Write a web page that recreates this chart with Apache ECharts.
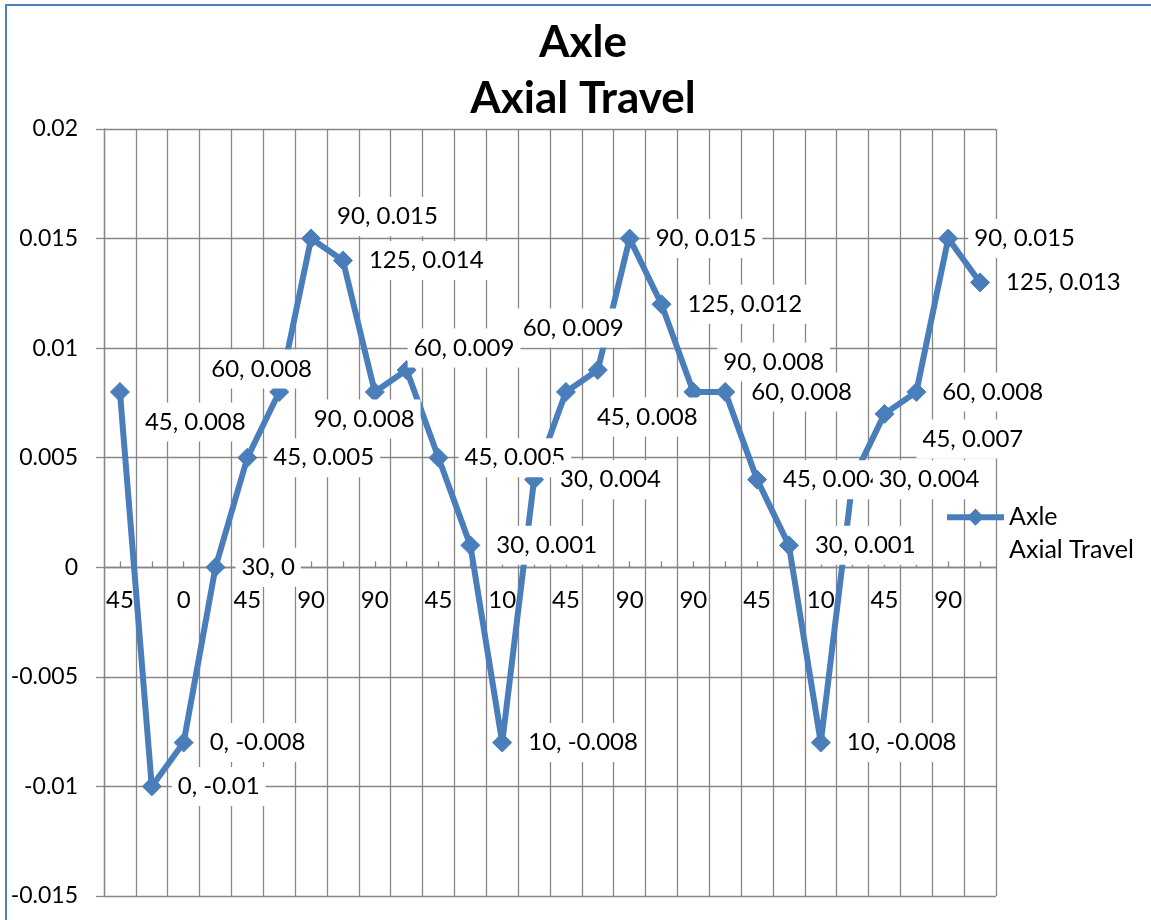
<!DOCTYPE html>
<html>
<head>
<meta charset="utf-8">
<title>Axle Axial Travel</title>
<script src="https://cdn.jsdelivr.net/npm/echarts@6/dist/echarts.min.js"></script>
<style>
  html, body { margin: 0; padding: 0; background: #ffffff; }
  #chart { width: 1151px; height: 920px; }
</style>
</head>
<body>
<div id="chart"></div>
<script>
// Angle setting for each reading (category axis)
const categories = ['45', '0', '0', '30', '45', '60', '90', '125', '90', '60', '45', '30', '10', '30',
                    '45', '60', '90', '125', '90', '60', '45', '30', '10', '30', '45', '60', '90', '125'];
// Measured axial travel of the axle at each reading
const travel = [0.008, -0.01, -0.008, 0, 0.005, 0.008, 0.015, 0.014, 0.008, 0.009, 0.005, 0.001, -0.008, 0.004,
                0.008, 0.009, 0.015, 0.012, 0.008, 0.008, 0.004, 0.001, -0.008, 0.004, 0.007, 0.008, 0.015, 0.013];
const seriesName = 'Axle\nAxial Travel';
const chartTitle = 'Axle\nAxial Travel';
const yMin = -0.015, yMax = 0.02, yStep = 0.005;

// Hand-placed data labels: pixel nudges from the default spot right of the marker
const labelNudge = {
  0: [-1, 30],
  5: [-94, -23],
  6: [0, -22],
  8: [-87, 27],
  9: [-19, -22],
  14: [5, 25],
  15: [-101, -42],
  18: [4, -30],
  24: [12, 25]
};

const FONT = 'Lato';
const BLUE = '#4a7ebb';
const GRID = '#878787';

const chart = echarts.init(document.getElementById('chart'), null, { renderer: 'canvas' });

const seriesData = travel.map((v, i) => {
  const item = { value: v };
  if (labelNudge[i]) item.label = { offset: labelNudge[i] };
  return item;
});

chart.setOption({
  animation: false,
  backgroundColor: '#ffffff',
  title: {
    text: chartTitle,
    left: 583,
    top: 15,
    padding: 0,
    textAlign: 'center',
    textStyle: { fontFamily: FONT, fontWeight: 'bold', fontSize: 44, lineHeight: 56, color: '#000' }
  },
  graphic: [{
    type: 'rect',
    silent: true,
    shape: { x: 6, y: 5, width: 1300, height: 1100 },
    style: { fill: 'none', stroke: '#4f81bd', lineWidth: 2 }
  }],
  legend: {
    data: [seriesName],
    left: 944,
    top: 'middle',
    padding: 0,
    itemWidth: 57,
    itemHeight: 18,
    itemGap: 0,
    lineStyle: { width: 6 },
    // leading blank line keeps the first name line level with the icon
    formatter: name => '\n' + name,
    textStyle: { fontFamily: FONT, fontSize: 25, color: '#000', lineHeight: 33 }
  },
  grid: { left: 104, right: 155, top: 129, bottom: 24, containLabel: false, outerBoundsMode: 'none' },
  xAxis: {
    type: 'category',
    data: categories,
    boundaryGap: true,
    position: 'bottom',
    axisLine: { show: true, onZero: false, lineStyle: { color: GRID, width: 1.3 } },
    axisTick: { show: true, alignWithLabel: true, inside: true, length: 6, interval: 0, lineStyle: { color: GRID, width: 1.3 } },
    axisLabel: { interval: 1, margin: 21, fontFamily: FONT, fontSize: 24, color: '#000' },
    splitLine: { show: true, interval: 0, lineStyle: { color: GRID, width: 1.3 } }
  },
  yAxis: {
    type: 'value',
    min: yMin,
    max: yMax,
    interval: yStep,
    axisLine: { show: true, lineStyle: { color: GRID, width: 1.3 } },
    axisTick: { show: true, length: 8, lineStyle: { color: GRID, width: 1.3 } },
    axisLabel: {
      margin: 26, fontFamily: FONT, fontSize: 23, color: '#000',
      formatter: v => String(+v.toFixed(3))
    },
    splitLine: { show: true, lineStyle: { color: GRID, width: 1.3 } }
  },
  series: [{
    type: 'line',
    name: seriesName,
    data: seriesData,
    symbol: 'diamond',
    symbolSize: 19,
    lineStyle: { color: BLUE, width: 6 },
    itemStyle: { color: BLUE, borderColor: BLUE, borderWidth: 1 },
    emphasis: { disabled: true },
    label: {
      show: true,
      position: 'right',
      distance: 10,
      formatter: p => categories[p.dataIndex] + ', ' + travel[p.dataIndex],
      backgroundColor: '#ffffff',
      padding: [7, 6],
      fontFamily: FONT,
      fontSize: 24,
      lineHeight: 25,
      color: '#000'
    }
  }]
});

// Run the category axis along the zero line of the value axis
for (let pass = 0; pass < 2; pass++) {
  const zeroY = chart.convertToPixel({ yAxisIndex: 0 }, 0);
  const floorY = chart.convertToPixel({ yAxisIndex: 0 }, yMin);
  chart.setOption({ xAxis: { offset: zeroY - floorY } });
}

// Legend icon sits level with the first text line, just right of the plot
chart.setOption({ legend: { top: chart.convertToPixel({ yAxisIndex: 0 }, 0.0024) - 47 } });
</script>
</body>
</html>
